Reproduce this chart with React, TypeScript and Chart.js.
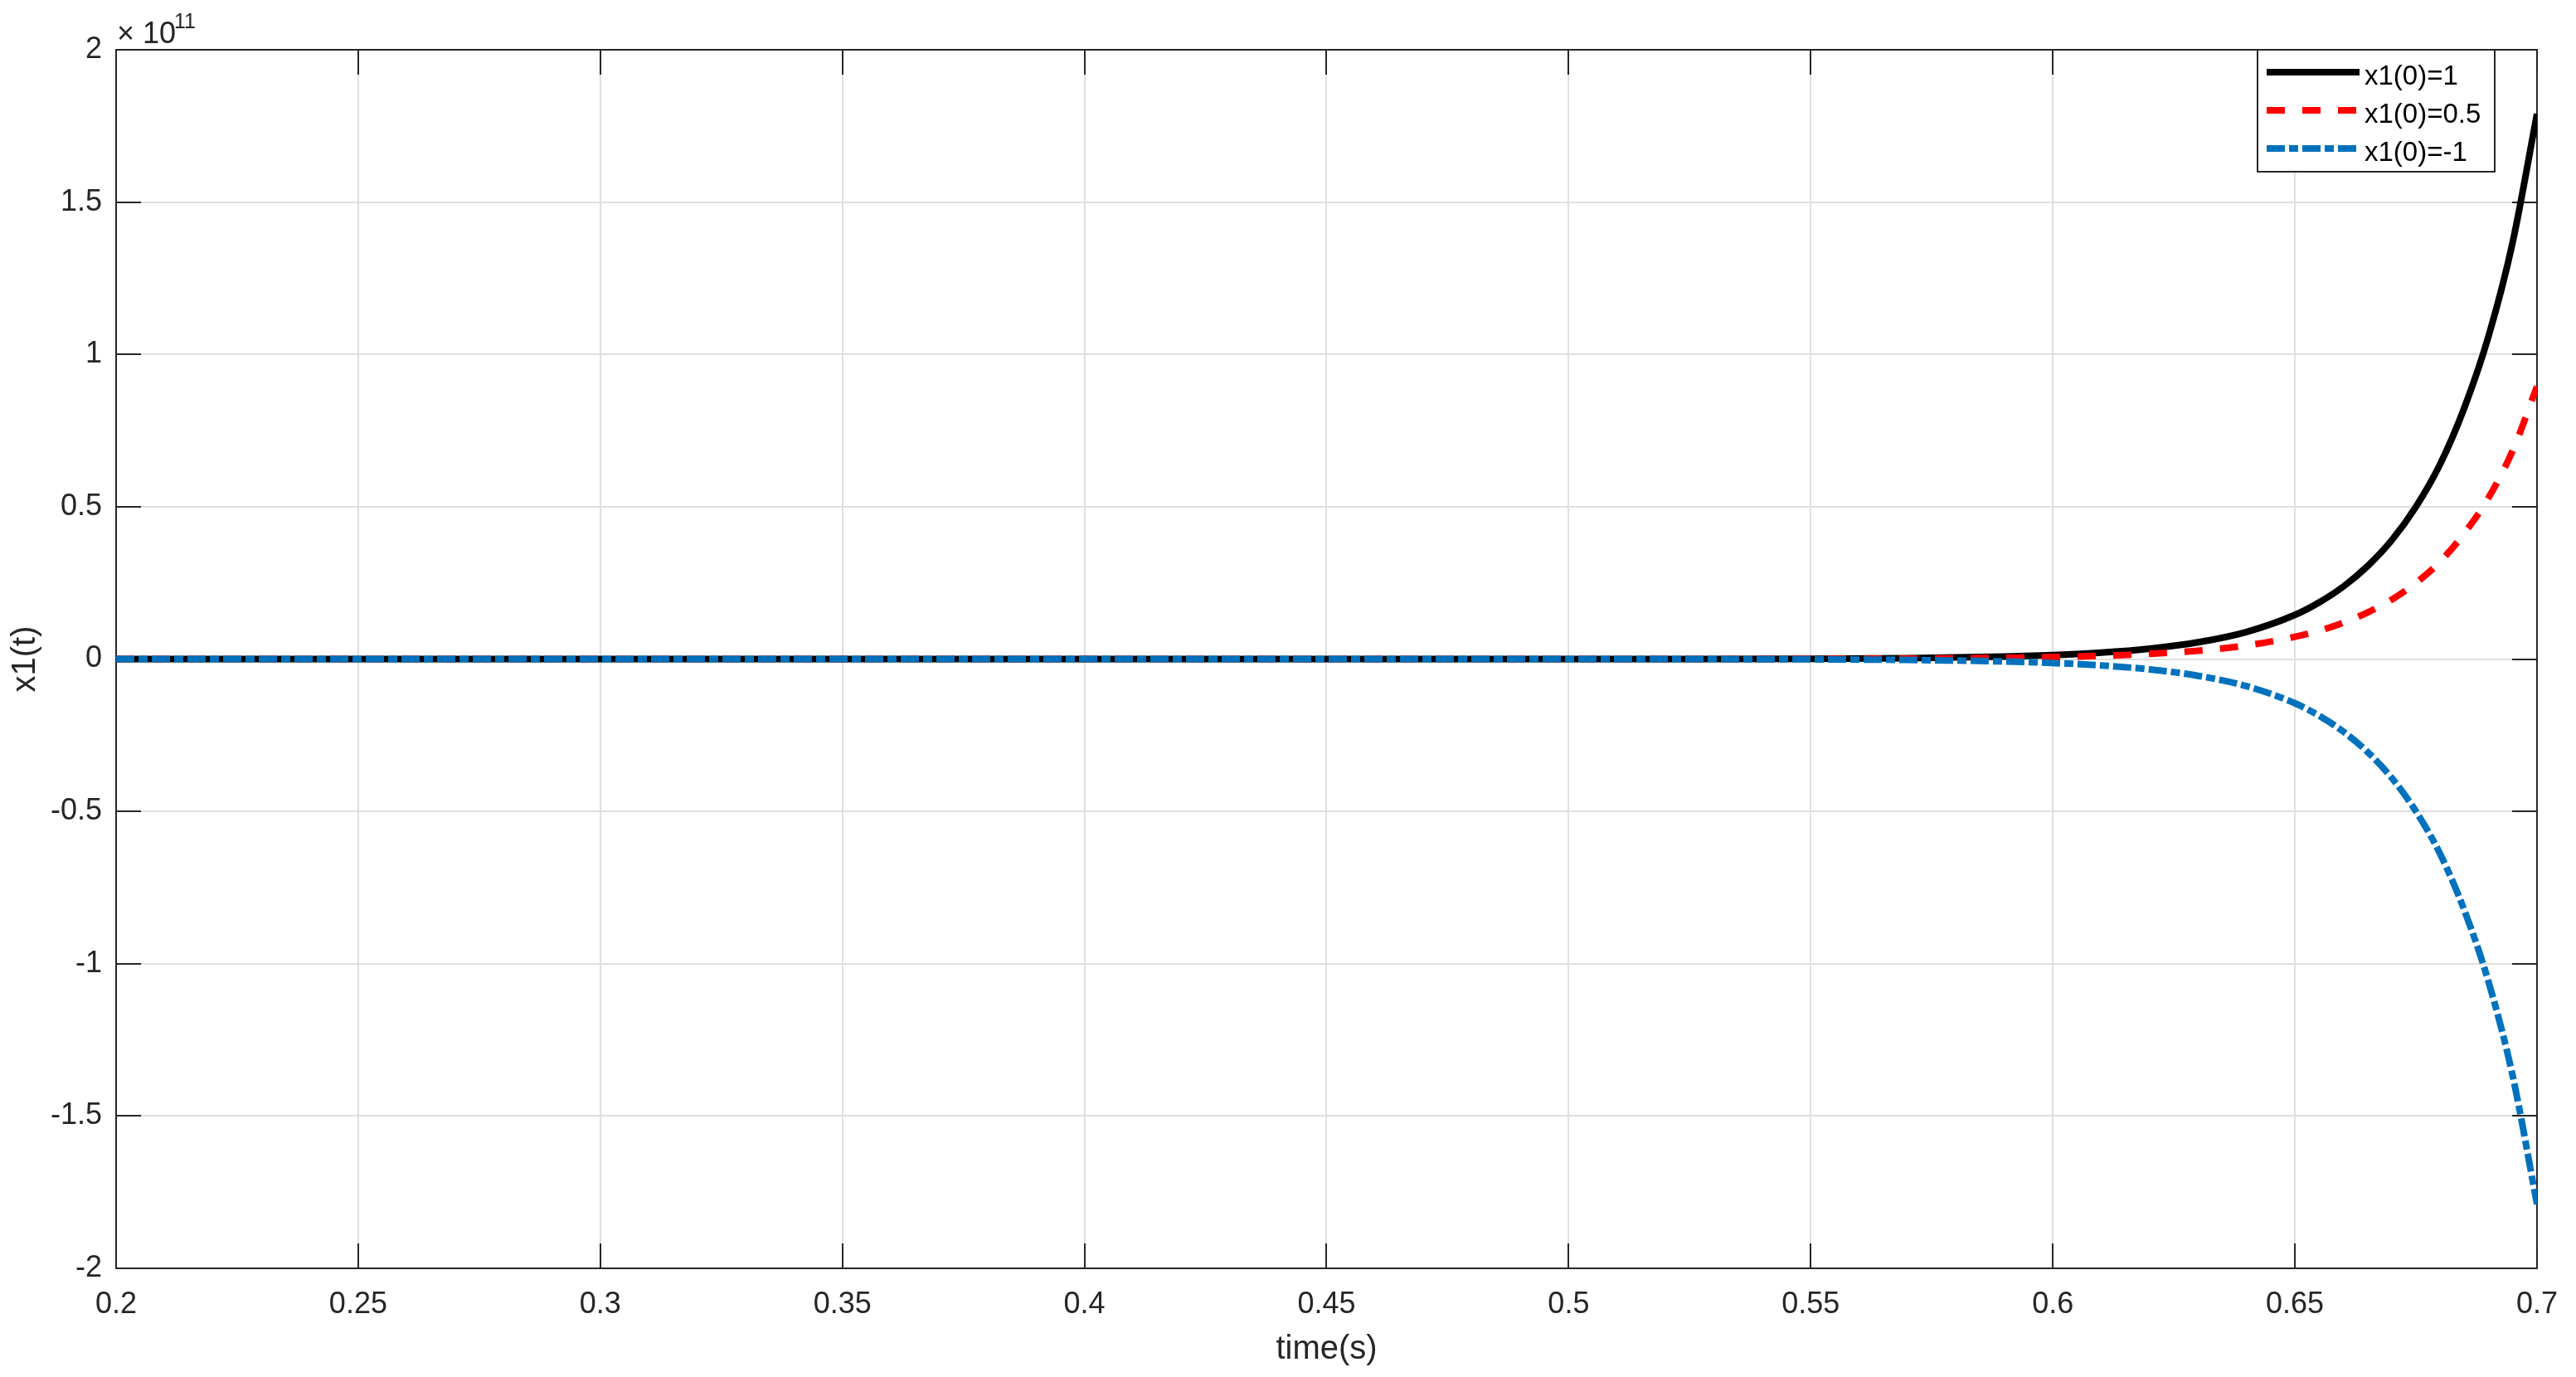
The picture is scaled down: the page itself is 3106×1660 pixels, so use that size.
import { useEffect, useRef } from "react";
import { Chart, registerables } from "chart.js";

Chart.register(...registerables);

// ---- data (y values in units of 1e11) ----
const timeS = [0.2, 0.3, 0.4, 0.5, 0.55, 0.57, 0.59, 0.6, 0.61, 0.62, 0.63, 0.64, 0.65, 0.655, 0.66, 0.665, 0.67, 0.675, 0.68, 0.685, 0.69, 0.695, 0.7];
const x1Init1 = [0, 0, 0, 0.0001, 0.001, 0.003, 0.008, 0.013, 0.021, 0.034, 0.055, 0.089, 0.145, 0.186, 0.238, 0.305, 0.39, 0.5, 0.64, 0.825, 1.06, 1.37, 1.79];
const x1Init05 = [0, 0, 0, 0.00005, 0.0005, 0.0015, 0.004, 0.0065, 0.0105, 0.017, 0.0275, 0.0445, 0.073, 0.093, 0.119, 0.153, 0.195, 0.25, 0.32, 0.413, 0.53, 0.685, 0.895];
const x1InitNeg1 = [0, 0, 0, -0.0001, -0.001, -0.003, -0.008, -0.013, -0.021, -0.034, -0.055, -0.089, -0.145, -0.186, -0.238, -0.305, -0.39, -0.5, -0.64, -0.825, -1.06, -1.37, -1.79];
const seriesLabels = ["x1(0)=1", "x1(0)=0.5", "x1(0)=-1"];
const xTicks = [0.2, 0.25, 0.3, 0.35, 0.4, 0.45, 0.5, 0.55, 0.6, 0.65, 0.7];
const xTickLabels = ["0.2", "0.25", "0.3", "0.35", "0.4", "0.45", "0.5", "0.55", "0.6", "0.65", "0.7"];
const yTicks = [-2, -1.5, -1, -0.5, 0, 0.5, 1, 1.5, 2];
const yTickLabels = ["-2", "-1.5", "-1", "-0.5", "0", "0.5", "1", "1.5", "2"];
const yExponent = "11";
const xTitle = "time(s)";
const yTitle = "x1(t)";

const W = 3106;
const H = 1660;
const AREA = { left: 140, top: 60, right: 3074, bottom: 1529 };
const FONT = "'Liberation Sans', Arial, Helvetica, sans-serif";
const AXIS = "#262626";
const GRID = "#dfdfdf";
const COLORS = ["#000000", "#ff0000", "#0072bd"];
const DASHES: number[][] = [[], [22, 21], [22, 5, 11, 5]];
const LW = 8;

export default function App() {
  const ref = useRef<HTMLCanvasElement | null>(null);

  useEffect(() => {
    if (!ref.current) return;
    const series = [x1Init1, x1Init05, x1InitNeg1];

    const decor = {
      id: "decor",
      beforeDatasetsDraw(chart: any) {
        const { ctx, chartArea, scales } = chart;
        const { left, right, top, bottom } = chartArea;
        ctx.save();
        ctx.strokeStyle = AXIS;
        ctx.lineWidth = 2;
        ctx.beginPath();
        xTicks.forEach((v) => {
          const px = Math.round(scales.x.getPixelForValue(v));
          ctx.moveTo(px, bottom);
          ctx.lineTo(px, bottom - 30);
          ctx.moveTo(px, top);
          ctx.lineTo(px, top + 30);
        });
        yTicks.forEach((v) => {
          const py = Math.round(scales.y.getPixelForValue(v));
          ctx.moveTo(left, py);
          ctx.lineTo(left + 30, py);
          ctx.moveTo(right, py);
          ctx.lineTo(right - 30, py);
        });
        ctx.stroke();
        ctx.strokeRect(left, top, right - left, bottom - top);
        ctx.restore();
      },
      afterDraw(chart: any) {
        const { ctx, chartArea } = chart;
        const { left, right, top, bottom } = chartArea;
        ctx.save();
        // legend
        const bx = 2722, by = 60, bw = 286, bh = 147;
        ctx.fillStyle = "#ffffff";
        ctx.fillRect(bx, by, bw, bh);
        ctx.strokeStyle = AXIS;
        ctx.lineWidth = 2;
        ctx.strokeRect(bx, by, bw, bh);
        const rows = [87, 133, 179];
        rows.forEach((yy, i) => {
          ctx.beginPath();
          ctx.strokeStyle = COLORS[i];
          ctx.lineWidth = LW;
          ctx.lineCap = "butt";
          ctx.setLineDash(DASHES[i]);
          ctx.moveTo(2733, yy);
          ctx.lineTo(2845, yy);
          ctx.stroke();
          ctx.setLineDash([]);
          ctx.fillStyle = "#000000";
          ctx.font = `33px ${FONT}`;
          ctx.textAlign = "left";
          ctx.textBaseline = "alphabetic";
          ctx.fillText(seriesLabels[i], 2851, yy + 15);
        });
        // exponent label
        ctx.fillStyle = AXIS;
        ctx.font = `36px ${FONT}`;
        ctx.textAlign = "left";
        ctx.textBaseline = "alphabetic";
        ctx.fillText("\u00d7", 141, 52);
        ctx.fillText("10", 172, 52);
        ctx.font = `25px ${FONT}`;
        ctx.fillText(yExponent, 210, 34);
        // axis titles
        ctx.font = `40px ${FONT}`;
        ctx.textAlign = "center";
        ctx.fillText(xTitle, (left + right) / 2, 1638);
        ctx.translate(42, (top + bottom) / 2);
        ctx.rotate(-Math.PI / 2);
        ctx.fillText(yTitle, 0, 0);
        ctx.restore();
      },
    };

    const chart = new Chart(ref.current, {
      type: "line",
      data: {
        datasets: series.map((s, i) => ({
          label: seriesLabels[i],
          data: timeS.map((t, k) => ({ x: t, y: s[k] })),
          borderColor: COLORS[i],
          backgroundColor: COLORS[i],
          borderWidth: LW,
          borderDash: DASHES[i],
          borderCapStyle: "butt" as const,
          borderJoinStyle: "round" as const,
          pointRadius: 0,
          fill: false,
          cubicInterpolationMode: "monotone" as const,
          order: 2 - i,
        })),
      },
      options: {
        responsive: false,
        animation: false,
        events: [],
        layout: { padding: { left: 0, top: AREA.top, right: W - AREA.right, bottom: 0 } },
        plugins: { legend: { display: false }, tooltip: { enabled: false } },
        scales: {
          x: {
            type: "linear",
            min: 0.2,
            max: 0.7,
            afterBuildTicks: (s: any) => {
              s.ticks = xTicks.map((v) => ({ value: v }));
            },
            afterFit: (s: any) => {
              s.height = H - AREA.bottom;
            },
            grid: { color: GRID, lineWidth: 2, drawTicks: false },
            border: { display: false },
            ticks: {
              autoSkip: false,
              maxRotation: 0,
              padding: 22,
              color: AXIS,
              font: { family: FONT, size: 36 },
              callback: (_v: any, i: number) => xTickLabels[i],
            },
          },
          y: {
            type: "linear",
            min: -2,
            max: 2,
            afterBuildTicks: (s: any) => {
              s.ticks = yTicks.map((v) => ({ value: v }));
            },
            afterFit: (s: any) => {
              s.width = AREA.left;
            },
            grid: { color: GRID, lineWidth: 2, drawTicks: false },
            border: { display: false },
            ticks: {
              autoSkip: false,
              padding: 17,
              color: AXIS,
              font: { family: FONT, size: 36 },
              callback: (_v: any, i: number) => yTickLabels[i],
            },
          },
        },
      },
      plugins: [decor],
    });
    return () => chart.destroy();
  }, []);

  return (
    <div style={{ position: "fixed", left: 0, top: 0, width: W, height: H, background: "#ffffff" }}>
      <canvas ref={ref} width={W} height={H} style={{ display: "block" }} />
    </div>
  );
}
